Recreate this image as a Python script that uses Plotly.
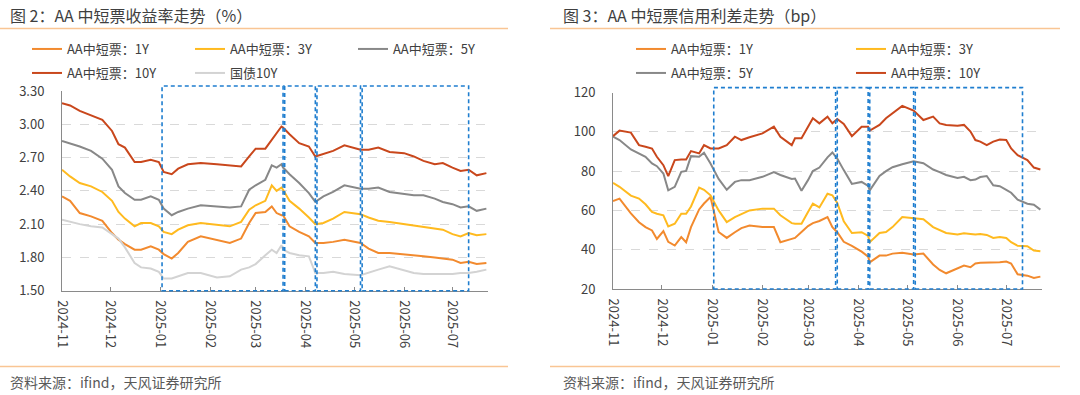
import plotly.graph_objects as go

# ---------------- data (left: yields, %) ----------------
dates_left = ["2024-11-01","2024-11-06","2024-11-12","2024-11-19","2024-11-26","2024-12-02","2024-12-06","2024-12-10",
              "2024-12-16","2024-12-20","2024-12-26","2024-12-31","2025-01-03","2025-01-08","2025-01-12","2025-01-18",
              "2025-01-26","2025-02-05","2025-02-13","2025-02-20","2025-02-25","2025-03-01","2025-03-07","2025-03-11",
              "2025-03-14","2025-03-17","2025-03-18","2025-03-22","2025-03-28","2025-04-03","2025-04-07","2025-04-12",
              "2025-04-18","2025-04-25","2025-05-05","2025-05-10","2025-05-16","2025-05-23","2025-06-01","2025-06-07",
              "2025-06-13","2025-06-20","2025-06-25","2025-07-01","2025-07-06","2025-07-11","2025-07-16","2025-07-22"]

yield_1y = [2.35,2.31,2.20,2.17,2.13,2.02,1.96,1.92,1.87,1.87,1.90,1.87,1.83,1.79,1.84,1.94,
            1.99,1.96,1.93,1.97,2.11,2.20,2.21,2.26,2.20,2.18,2.18,2.08,2.03,1.99,1.93,1.93,
            1.94,1.96,1.93,1.88,1.84,1.84,1.83,1.82,1.81,1.80,1.79,1.78,1.75,1.76,1.74,1.75]
yield_3y = [2.59,2.53,2.47,2.44,2.39,2.31,2.21,2.15,2.08,2.11,2.11,2.08,2.03,2.01,2.05,2.09,
            2.11,2.09,2.08,2.12,2.23,2.27,2.31,2.45,2.40,2.43,2.41,2.31,2.24,2.16,2.10,2.11,
            2.15,2.21,2.19,2.16,2.13,2.12,2.10,2.09,2.08,2.06,2.05,2.01,1.99,2.02,2.00,2.01]
yield_5y = [2.85,2.83,2.80,2.76,2.69,2.59,2.44,2.38,2.32,2.32,2.35,2.32,2.24,2.18,2.21,2.24,
            2.27,2.26,2.25,2.26,2.41,2.45,2.50,2.63,2.61,2.64,2.61,2.55,2.47,2.38,2.30,2.35,
            2.39,2.45,2.42,2.42,2.43,2.39,2.37,2.36,2.36,2.33,2.30,2.28,2.25,2.26,2.22,2.24]
yield_10y = [3.19,3.17,3.12,3.08,3.04,2.94,2.82,2.79,2.66,2.66,2.68,2.66,2.57,2.55,2.60,2.64,
             2.65,2.64,2.63,2.62,2.71,2.78,2.78,2.86,2.93,2.98,2.97,2.91,2.83,2.80,2.71,2.73,
             2.76,2.81,2.77,2.77,2.79,2.75,2.74,2.71,2.67,2.64,2.65,2.61,2.58,2.59,2.54,2.56]
gov_10y = [2.14,2.12,2.10,2.08,2.07,2.01,1.97,1.89,1.75,1.71,1.70,1.67,1.61,1.61,1.63,1.66,
           1.66,1.62,1.63,1.69,1.71,1.74,1.82,1.87,1.84,1.91,1.87,1.84,1.82,1.81,1.66,1.66,
           1.67,1.65,1.64,1.66,1.69,1.72,1.68,1.66,1.65,1.65,1.65,1.65,1.66,1.66,1.67,1.69]

# ---------------- data (right: credit spreads, bp) ----------------
dates_right = ["2024-11-01","2024-11-05","2024-11-12","2024-11-17","2024-11-21","2024-11-25","2024-11-28",
               "2024-12-02","2024-12-05","2024-12-09","2024-12-13","2024-12-16","2024-12-19","2024-12-24","2024-12-27","2024-12-31",
               "2025-01-05","2025-01-10","2025-01-15","2025-01-19","2025-01-24",
               "2025-02-01","2025-02-08","2025-02-12","2025-02-19","2025-02-21","2025-02-25",
               "2025-03-01","2025-03-04","2025-03-08","2025-03-13","2025-03-16","2025-03-19","2025-03-23","2025-03-28",
               "2025-04-03","2025-04-07","2025-04-08","2025-04-14","2025-04-18","2025-04-22","2025-04-28",
               "2025-05-05","2025-05-11","2025-05-17","2025-05-21","2025-05-25",
               "2025-06-01","2025-06-05","2025-06-09","2025-06-12","2025-06-15","2025-06-19","2025-06-23","2025-06-27",
               "2025-07-01","2025-07-04","2025-07-08","2025-07-14","2025-07-18","2025-07-22"]

spread_1y = [64.8,66.0,58.5,54.0,51.5,49.8,45.5,
             49.5,44.0,42.1,46.4,43.8,51.5,60.5,63.5,66.8,
             49.0,46.0,48.9,51.0,52.3,
             51.5,51.5,43.8,45.5,46.0,49.0,
             52.0,53.5,54.6,56.6,51.5,48.9,44.0,42.0,
             39.0,36.5,33.6,37.0,37.0,38.0,38.5,
             37.5,38.0,32.5,29.7,28.0,
             30.5,31.9,31.1,33.0,33.3,33.3,33.6,33.6,
             34.0,33.0,27.5,26.8,25.6,26.3]
spread_3y = [74.0,72.0,67.5,66.0,63.1,59.2,58.3,
             57.5,51.8,53.2,58.3,58.3,62.0,71.6,70.5,67.7,
             60.0,54.0,56.6,58.3,60.0,
             60.9,60.9,57.5,53.5,53.2,53.2,
             59.2,63.4,61.5,68.5,67.7,63.8,54.5,48.5,
             48.9,47.0,43.8,48.5,49.0,51.5,56.6,
             56.0,55.5,51.5,50.0,48.5,
             47.7,48.4,48.0,47.7,48.0,47.5,46.0,46.4,
             46.0,43.8,42.0,41.8,39.6,39.2]
spread_5y = [97.5,95.8,91.0,89.0,87.3,83.9,82.5,
             78.8,70.2,72.0,79.6,80.1,87.6,87.3,89.3,83.9,
             76.0,70.5,74.5,75.4,75.4,
             77.1,79.5,78.0,76.0,76.2,70.0,
             75.4,80.0,81.8,87.0,89.5,86.4,80.5,73.5,
             74.5,72.5,70.2,77.5,80.0,82.0,83.5,
             85.0,84.0,80.8,79.5,78.0,
             76.5,77.1,75.4,75.7,77.0,77.5,72.8,72.3,
             70.5,69.0,65.5,63.4,62.9,60.4]
spread_10y = [97.8,100.6,99.6,93.2,92.4,91.5,87.3,
              83.0,77.4,85.6,85.9,85.9,90.2,89.0,93.2,91.5,
              91.5,93.2,97.5,95.8,97.2,
              99.2,102.6,97.5,93.2,96.7,96.7,
              102.6,106.9,104.3,107.7,104.3,106.5,104.0,97.8,
              102.6,102.6,100.6,103.5,106.9,109.4,113.2,
              110.8,106.0,107.7,104.3,103.5,
              103.1,103.5,100.1,95.8,95.0,93.2,95.0,96.1,
              95.8,91.5,88.1,85.6,81.8,80.8]

# highlighted periods (dashed boxes)
period_starts = ["2025-01-02", "2025-03-19", "2025-04-08", "2025-05-06"]
period_ends = ["2025-03-18", "2025-04-07", "2025-05-05", "2025-07-11"]

x_range = ["2024-11-01", "2025-07-23"]

# ---------------- style ----------------
C1 = "#F28A2E"
C3 = "#FFBA1F"
C5 = "#888888"
C10 = "#C9471C"
CG = "#D3D3D3"
BLUE = "#1F7ECF"
ORANGE_RULE = "#F9C594"
FONT = "Noto Sans CJK SC, Noto Sans, sans-serif"
TXT = "#404040"

W, H = 1080, 395

fig = go.Figure()

def add(x, y, name, color, xa, ya, legend):
    fig.add_trace(go.Scatter(x=x, y=y, name=name, mode="lines",
                             line=dict(color=color, width=2),
                             xaxis=xa, yaxis=ya, legend=legend))

# left traces
add(dates_left, yield_1y, "AA中短票：1Y", C1, "x", "y", "legend")
add(dates_left, yield_3y, "AA中短票：3Y", C3, "x", "y", "legend")
add(dates_left, yield_5y, "AA中短票：5Y", C5, "x", "y", "legend")
add(dates_left, yield_10y, "AA中短票：10Y", C10, "x", "y", "legend2")
add(dates_left, gov_10y, "国债10Y", CG, "x", "y", "legend2")
# right traces
add(dates_right, spread_1y, "AA中短票：1Y", C1, "x2", "y2", "legend3")
add(dates_right, spread_3y, "AA中短票：3Y", C3, "x2", "y2", "legend3")
add(dates_right, spread_5y, "AA中短票：5Y", C5, "x2", "y2", "legend4")
add(dates_right, spread_10y, "AA中短票：10Y", C10, "x2", "y2", "legend4")

xcommon = dict(type="date", range=x_range, dtick="M1", tick0="2024-11-01", tickformat="%Y-%m",
               tickangle=90, showgrid=False, zeroline=False, showline=True, linecolor="#8A8A8A",
               linewidth=1, ticks="inside", ticklen=4, tickcolor="#8A8A8A",
               tickfont=dict(size=13, color=TXT, family=FONT), automargin=False, fixedrange=True,
               ticklabelstandoff=6)
ycommon = dict(showgrid=True, gridcolor="#D9D9D9", griddash="dash", gridwidth=1, zeroline=False,
               showline=True, linecolor="#8A8A8A", linewidth=1, ticks="",
               tickfont=dict(size=13, color=TXT, family=FONT), automargin=False, fixedrange=True,
               ticklabelstandoff=14)

fig.update_layout(
    width=W, height=H, margin=dict(l=0, r=0, t=0, b=0),
    paper_bgcolor="white", plot_bgcolor="white",
    font=dict(family=FONT, color=TXT),
    xaxis=dict(domain=[62 / W, 488 / W], anchor="y", **xcommon),
    yaxis=dict(domain=[1 - 290.7 / H, 1 - 91 / H], anchor="x", range=[1.5, 3.3], dtick=0.3,
               tick0=1.5, tickformat=".2f", **ycommon),
    xaxis2=dict(domain=[613 / W, 1042 / W], anchor="y2", **xcommon),
    yaxis2=dict(domain=[1 - 289 / H, 1 - 92.5 / H], anchor="x2", range=[20, 120], dtick=20,
                tick0=20, **ycommon),
    showlegend=True,
    hovermode=False,
)

leg_font = dict(size=13, color=TXT, family=FONT)
def legend_cfg(x_px, y_px, ew):
    return dict(orientation="h", x=x_px / W, y=1 - y_px / H, xanchor="left", yanchor="middle",
                entrywidth=ew, entrywidthmode="pixels", itemwidth=30, bgcolor="rgba(0,0,0,0)",
                font=leg_font, tracegroupgap=0, itemclick=False, itemdoubleclick=False)

fig.update_layout(
    legend=legend_cfg(27, 49, 118),
    legend2=legend_cfg(27, 73, 118),
    legend3=legend_cfg(631, 49, 175),
    legend4=legend_cfg(631, 73, 175),
)

# dashed period boxes
for xa, ya in (("x", "y"), ("x2", "y2")):
    for s, e in zip(period_starts, period_ends):
        fig.add_shape(type="rect", xref=xa, yref=f"{ya} domain", x0=s, x1=e, y0=0, y1=1.025,
                      line=dict(color=BLUE, width=1.6, dash="4px,3px"), fillcolor="rgba(0,0,0,0)",
                      layer="above")

# titles, rules and sources
for x0, x1 in ((0, 508), (550, 1060)):
    for yy in (28.5, 366.5):
        fig.add_shape(type="line", xref="paper", yref="paper", x0=x0 / W, x1=x1 / W,
                      y0=1 - yy / H, y1=1 - yy / H, line=dict(color=ORANGE_RULE, width=1.5))

def text(x_px, y_px, s, size, color):
    fig.add_annotation(x=x_px / W, y=1 - y_px / H, xref="paper", yref="paper", text=s,
                       showarrow=False, xanchor="left", yanchor="middle",
                       font=dict(size=size, color=color, family=FONT))

text(8, 15, "图 2：AA 中短票收益率走势（%）", 16, "#3F3F3F")
text(561, 15, "图 3：AA 中短票信用利差走势（bp）", 16, "#3F3F3F")
text(8, 382, "资料来源：ifind，天风证券研究所", 14, "#595959")
text(561, 382, "资料来源：ifind，天风证券研究所", 14, "#595959")

fig.write_html("out.html", config={"displayModeBar": False, "staticPlot": True},
               post_script="document.body.style.margin='0';document.body.style.overflow='hidden';")
